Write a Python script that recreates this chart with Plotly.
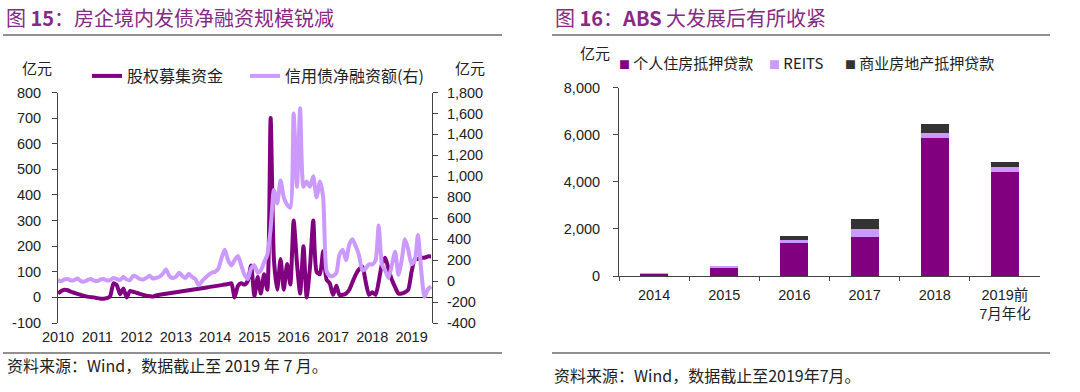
import pandas as pd
import plotly.graph_objects as go

# ---------------- Left chart data (monthly, 2010-01 .. 2019-07) ----------------
months = pd.date_range("2010-01-01", periods=115, freq="MS")

equity_raise = [  # 股权募集资金 (left axis, 亿元)
    15, 25, 30, 28, 22, 18, 14, 10, 6, 3, 1, 0,            # 2010
    -3, -5, -5, -3, 5, 55, 48, 12, 35, 0, 25, 22,          # 2011
    18, 14, 10, 7, 5, 3, 8, 10, 12, 14, 16, 18,            # 2012
    20, 22, 24, 26, 28, 30, 32, 34, 36, 38, 40, 42,        # 2013
    44, 46, 48, 50, 52, 55, 0, 45, 55, 50, 65, 125,        # 2014
    5, 80, 15, 90, 30, 700, 150, 30, 150, 30, 130, 50,     # 2015
    300, 130, 15, 200, 0, 120, 300, 100, 90, 180, 70, 55,  # 2016
    10, 45, 10, 10, 15, 30, 60, 90, 110, 120, 60, 10,      # 2017
    20, 10, 60, 130, 155, 110, 70, 40, 15, 15, 20, 30,     # 2018
    100, 150, 150, 155, 155, 160, 160,                     # 2019
]

credit_bond = [  # 信用债净融资额 (right axis, 亿元)
    10, 0, 15, 20, 5, 10, 25, 0, -5, 10, 20, 5,                 # 2010
    0, 15, 20, 5, 10, 30, 20, 10, 40, 15, 10, 50,               # 2011
    40, 20, 15, 30, 50, 25, 30, 40, 70, 110, 50, 30,            # 2012
    40, 80, 50, 30, 70, 40, 20, -40, 0, 30, 60, 80,             # 2013
    90, 120, 220, 300, 200, 150, 200, 240, 150, 60, 20, 120,    # 2014
    150, 80, 100, 180, 250, 500, 870, 740, 960, 800, 730, 700,  # 2015
    1600, 900, 1650, 900, 950, 900, 1000, 800, 950, 800, 100, 50,  # 2016
    50, 80, 250, 300, 200, 350, 400, 330, 240, 100, 120, 160,   # 2017
    160, 200, 530, 160, 100, 30, 150, 280, 60, 200, 400, 300,   # 2018
    160, 200, 440, 100, -150, -80, -50,                          # 2019
]

left_ticks = [-100, 0, 100, 200, 300, 400, 500, 600, 700, 800]
left_ticktext = ["-100", "0", "100", "200", "300", "400", "500", "600", "700", "800"]
right_ticks = [-400, -200, 0, 200, 400, 600, 800, 1000, 1200, 1400, 1600, 1800]
right_ticktext = ["-400", "-200", "0", "200", "400", "600", "800", "1,000",
                  "1,200", "1,400", "1,600", "1,800"]

# ---------------- Right chart data ----------------
years = ["2014", "2015", "2016", "2017", "2018", "2019前<br>7月年化"]
mortgage = [100, 330, 1390, 1670, 5850, 4430]      # 个人住房抵押贷款
reits = [40, 95, 140, 310, 210, 190]               # REITS
commercial = [0, 0, 170, 440, 390, 240]            # 商业房地产抵押贷款
bar_names = ["个人住房抵押贷款", "REITS", "商业房地产抵押贷款"]

DARK = "#800080"
LIGHT = "#CC99FF"
BLACK = "#333333"
TITLE_C = "#862A83"
FONT = "Liberation Sans, Arial, Noto Sans CJK SC, sans-serif"
CJK = "Noto Sans CJK SC, Liberation Sans, sans-serif"
TXT = "#222222"

W, H = 1080, 392
def px_x(x): return x / W
def px_y(y): return 1 - y / H

fig = go.Figure()

fig.add_trace(go.Scatter(
    x=months, y=credit_bond, name="信用债净融资额(右)", mode="lines",
    line=dict(color=LIGHT, width=4, shape="spline", smoothing=0.6),
    xaxis="x", yaxis="y2", legend="legend2"))
fig.add_trace(go.Scatter(
    x=months, y=equity_raise, name="股权募集资金", mode="lines",
    line=dict(color=DARK, width=4, shape="spline", smoothing=0.6),
    xaxis="x", yaxis="y", legend="legend"))

bar_colors = [DARK, LIGHT, BLACK]
for vals, nm, col in zip([mortgage, reits, commercial], bar_names, bar_colors):
    fig.add_trace(go.Bar(x=years, y=vals, name=nm, showlegend=False,
                         marker=dict(color=col, line=dict(width=0)),
                         xaxis="x2", yaxis="y3"))

tickfont = dict(family=FONT, size=14.5, color=TXT)
legfont = dict(family=CJK, size=16, color=TXT)

fig.update_layout(
    width=W, height=H,
    margin=dict(l=0, r=0, t=0, b=0, pad=0, autoexpand=False),
    paper_bgcolor="white", plot_bgcolor="white",
    barmode="stack", bargap=0.6,
    showlegend=True,
    xaxis=dict(domain=[px_x(58), px_x(432)], anchor="y", type="date",
               range=["2010-01-01", "2019-07-10"], dtick="M12", tickformat="%Y",
               tick0="2010-01-01", showgrid=False, showline=False, ticks="",
               tickfont=tickfont, ticklabelstandoff=3, automargin=False),
    yaxis=dict(domain=[px_y(323), px_y(92.5)], anchor="x", range=[-100, 800],
               tickvals=left_ticks, ticktext=left_ticktext, showgrid=False,
               showline=True, linecolor="#444", linewidth=1, ticks="outside",
               ticklen=5, tickcolor="#444", zeroline=True, zerolinecolor="#222",
               zerolinewidth=1, tickfont=tickfont, ticklabelstandoff=8,
               automargin=False),
    yaxis2=dict(overlaying="y", side="right", anchor="x", range=[-400, 1800],
                tickvals=right_ticks, ticktext=right_ticktext, showgrid=False,
                showline=True, linecolor="#444", linewidth=1, ticks="outside",
                ticklen=5, tickcolor="#444", zeroline=False, tickfont=tickfont,
                ticklabelstandoff=6, automargin=False),
    xaxis2=dict(domain=[px_x(619), px_x(1040)], anchor="y3", showgrid=False,
                showline=True, linecolor="#444", linewidth=1, ticks="outside",
                tickson="boundaries", ticklen=4, tickcolor="#444",
                tickfont=tickfont, ticklabelstandoff=6, automargin=False),
    yaxis3=dict(domain=[px_y(276), px_y(87.7)], anchor="x2", range=[0, 8000],
                dtick=2000, tickformat=",", showgrid=False, showline=True,
                linecolor="#444", linewidth=1, ticks="outside", ticklen=5,
                tickcolor="#444", zeroline=False, tickfont=tickfont,
                ticklabelstandoff=10, automargin=False),
    legend=dict(orientation="h", x=px_x(87), y=px_y(76), xanchor="left",
                yanchor="middle", font=legfont, bgcolor="rgba(0,0,0,0)",
                itemwidth=30),
    legend2=dict(orientation="h", x=px_x(245), y=px_y(76), xanchor="left",
                 yanchor="middle", font=legfont, bgcolor="rgba(0,0,0,0)",
                 itemwidth=30),
)

annotations = [
    dict(text="图 <b>15</b>：房企境内发债净融资规模锐减", x=px_x(4), y=px_y(17),
         font=dict(family=CJK, size=20, color=TITLE_C)),
    dict(text="图 <b>16</b>：<b>ABS</b> 大发展后有所收紧", x=px_x(553), y=px_y(17),
         font=dict(family=CJK, size=20, color=TITLE_C)),
    dict(text="亿元", x=px_x(20), y=px_y(68), font=dict(family=CJK, size=15, color=TXT)),
    dict(text="亿元", x=px_x(453), y=px_y(68), font=dict(family=CJK, size=15, color=TXT)),
    dict(text="亿元", x=px_x(578), y=px_y(52), font=dict(family=CJK, size=15, color=TXT)),
    dict(text="资料来源：Wind，数据截止至 2019 年 7 月。", x=px_x(5), y=px_y(365),
         font=dict(family=CJK, size=16, color=TXT)),
    dict(text="资料来源：Wind，数据截止至2019年7月。", x=px_x(552), y=px_y(375),
         font=dict(family=CJK, size=16, color=TXT)),
]
# legend for the stacked bars (coloured square + name)
leg_x = [617, 767, 843]
for xx, nm, col in zip(leg_x, bar_names, bar_colors):
    annotations.append(dict(
        text=f"<span style='color:{col};font-size:11px'>■</span> {nm}",
        x=px_x(xx), y=px_y(63), font=dict(family=CJK, size=15, color=TXT)))
for a in annotations:
    a.update(xref="paper", yref="paper", xanchor="left", yanchor="middle",
             showarrow=False)
fig.update_layout(annotations=annotations)

lines = [(3, 502, 35), (552, 1050, 35), (3, 502, 353), (552, 1050, 353)]
fig.update_layout(shapes=[
    dict(type="line", xref="paper", yref="paper", x0=px_x(a), x1=px_x(b),
         y0=px_y(y), y1=px_y(y), line=dict(color="#222", width=1.2))
    for a, b, y in lines
])

fig.write_html("out.html",
               config={"displayModeBar": False},
               post_script="document.body.style.margin='0';")
